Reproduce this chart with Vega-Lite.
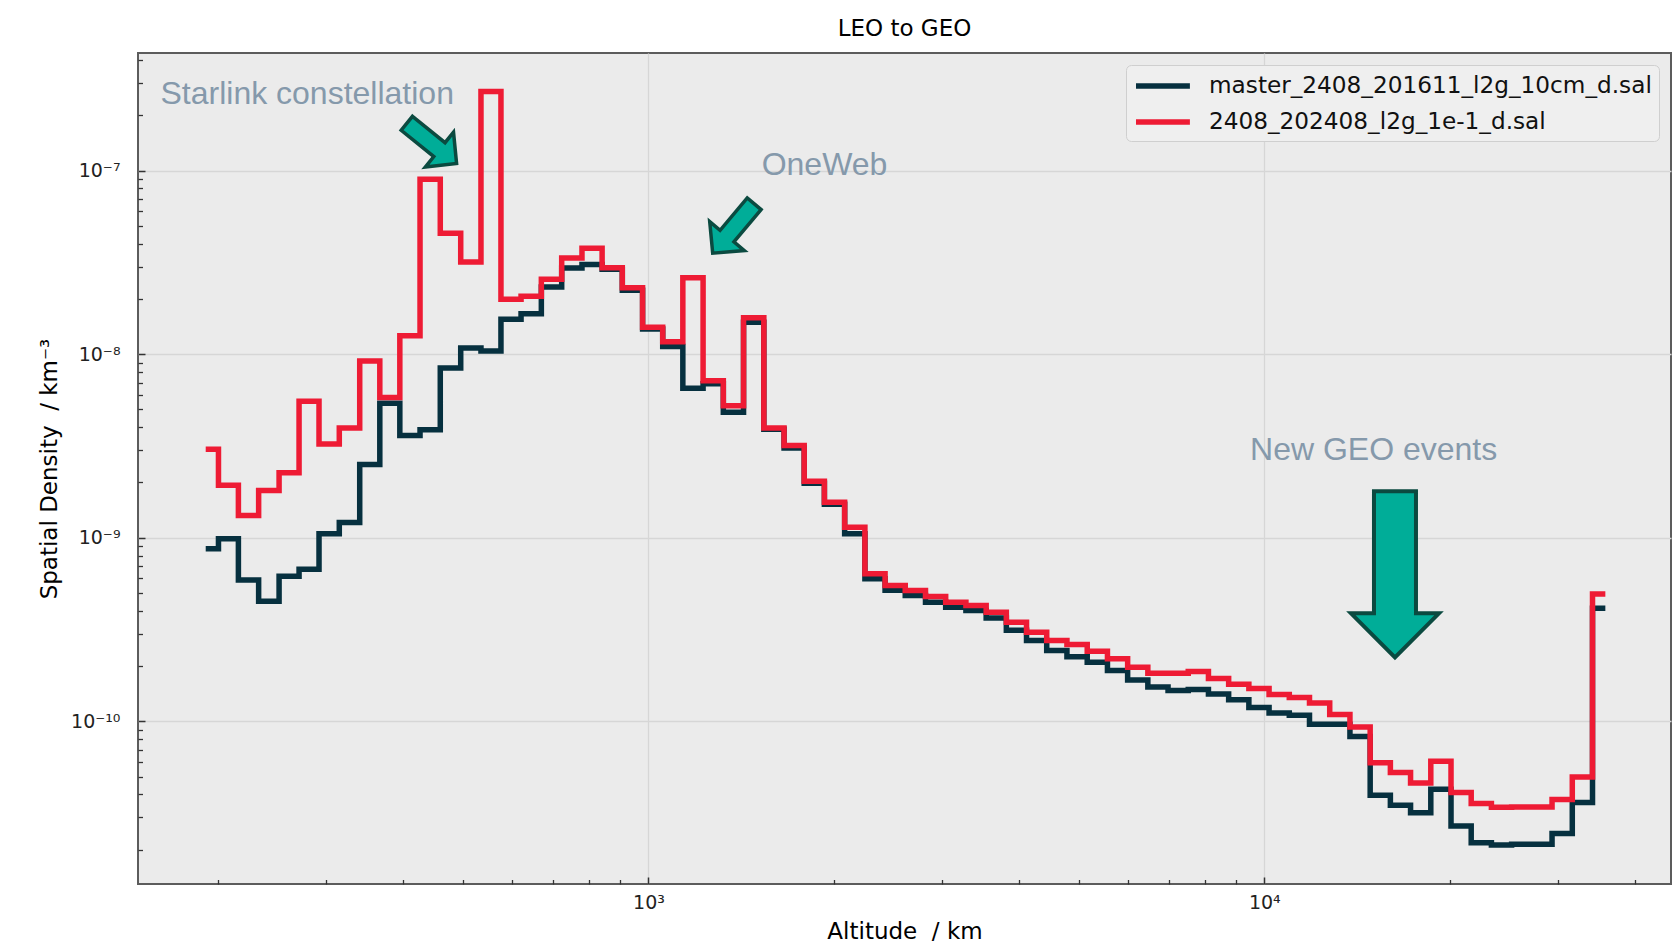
{
  "$schema": "https://vega.github.io/schema/vega-lite/v6.json",
  "width": 1533,
  "height": 831,
  "autosize": {"type": "none"},
  "padding": {"left": 138, "top": 53, "right": 7, "bottom": 68},
  "background": "#ffffff",
  "title": {"text": "LEO to GEO", "font": "DejaVu Sans", "fontSize": 23, "fontWeight": "normal", "color": "#000000", "anchor": "middle", "frame": "group", "offset": 12},
  "datasets": {
    "dens": [
      {"alt": 193, "density": 8.71e-10, "run": "master_2408_201611_l2g_10cm_d.sal"},
      {"alt": 208, "density": 9.86e-10, "run": "master_2408_201611_l2g_10cm_d.sal"},
      {"alt": 224, "density": 5.89e-10, "run": "master_2408_201611_l2g_10cm_d.sal"},
      {"alt": 242, "density": 4.51e-10, "run": "master_2408_201611_l2g_10cm_d.sal"},
      {"alt": 261, "density": 6.17e-10, "run": "master_2408_201611_l2g_10cm_d.sal"},
      {"alt": 281, "density": 6.74e-10, "run": "master_2408_201611_l2g_10cm_d.sal"},
      {"alt": 303, "density": 1.05e-9, "run": "master_2408_201611_l2g_10cm_d.sal"},
      {"alt": 327, "density": 1.21e-9, "run": "master_2408_201611_l2g_10cm_d.sal"},
      {"alt": 353, "density": 2.51e-9, "run": "master_2408_201611_l2g_10cm_d.sal"},
      {"alt": 380, "density": 5.41e-9, "run": "master_2408_201611_l2g_10cm_d.sal"},
      {"alt": 410, "density": 3.61e-9, "run": "master_2408_201611_l2g_10cm_d.sal"},
      {"alt": 442, "density": 3.87e-9, "run": "master_2408_201611_l2g_10cm_d.sal"},
      {"alt": 477, "density": 8.40e-9, "run": "master_2408_201611_l2g_10cm_d.sal"},
      {"alt": 515, "density": 1.08e-8, "run": "master_2408_201611_l2g_10cm_d.sal"},
      {"alt": 555, "density": 1.04e-8, "run": "master_2408_201611_l2g_10cm_d.sal"},
      {"alt": 598, "density": 1.55e-8, "run": "master_2408_201611_l2g_10cm_d.sal"},
      {"alt": 645, "density": 1.66e-8, "run": "master_2408_201611_l2g_10cm_d.sal"},
      {"alt": 696, "density": 2.32e-8, "run": "master_2408_201611_l2g_10cm_d.sal"},
      {"alt": 751, "density": 2.95e-8, "run": "master_2408_201611_l2g_10cm_d.sal"},
      {"alt": 810, "density": 3.08e-8, "run": "master_2408_201611_l2g_10cm_d.sal"},
      {"alt": 873, "density": 2.90e-8, "run": "master_2408_201611_l2g_10cm_d.sal"},
      {"alt": 942, "density": 2.23e-8, "run": "master_2408_201611_l2g_10cm_d.sal"},
      {"alt": 1016, "density": 1.37e-8, "run": "master_2408_201611_l2g_10cm_d.sal"},
      {"alt": 1095, "density": 1.10e-8, "run": "master_2408_201611_l2g_10cm_d.sal"},
      {"alt": 1181, "density": 6.53e-9, "run": "master_2408_201611_l2g_10cm_d.sal"},
      {"alt": 1274, "density": 6.90e-9, "run": "master_2408_201611_l2g_10cm_d.sal"},
      {"alt": 1374, "density": 4.82e-9, "run": "master_2408_201611_l2g_10cm_d.sal"},
      {"alt": 1482, "density": 1.49e-8, "run": "master_2408_201611_l2g_10cm_d.sal"},
      {"alt": 1599, "density": 3.90e-9, "run": "master_2408_201611_l2g_10cm_d.sal"},
      {"alt": 1724, "density": 3.08e-9, "run": "master_2408_201611_l2g_10cm_d.sal"},
      {"alt": 1859, "density": 1.98e-9, "run": "master_2408_201611_l2g_10cm_d.sal"},
      {"alt": 2005, "density": 1.52e-9, "run": "master_2408_201611_l2g_10cm_d.sal"},
      {"alt": 2163, "density": 1.05e-9, "run": "master_2408_201611_l2g_10cm_d.sal"},
      {"alt": 2333, "density": 5.98e-10, "run": "master_2408_201611_l2g_10cm_d.sal"},
      {"alt": 2515, "density": 5.18e-10, "run": "master_2408_201611_l2g_10cm_d.sal"},
      {"alt": 2713, "density": 4.85e-10, "run": "master_2408_201611_l2g_10cm_d.sal"},
      {"alt": 2926, "density": 4.45e-10, "run": "master_2408_201611_l2g_10cm_d.sal"},
      {"alt": 3155, "density": 4.18e-10, "run": "master_2408_201611_l2g_10cm_d.sal"},
      {"alt": 3404, "density": 4.01e-10, "run": "master_2408_201611_l2g_10cm_d.sal"},
      {"alt": 3671, "density": 3.66e-10, "run": "master_2408_201611_l2g_10cm_d.sal"},
      {"alt": 3958, "density": 3.13e-10, "run": "master_2408_201611_l2g_10cm_d.sal"},
      {"alt": 4269, "density": 2.76e-10, "run": "master_2408_201611_l2g_10cm_d.sal"},
      {"alt": 4603, "density": 2.43e-10, "run": "master_2408_201611_l2g_10cm_d.sal"},
      {"alt": 4966, "density": 2.25e-10, "run": "master_2408_201611_l2g_10cm_d.sal"},
      {"alt": 5357, "density": 2.10e-10, "run": "master_2408_201611_l2g_10cm_d.sal"},
      {"alt": 5777, "density": 1.89e-10, "run": "master_2408_201611_l2g_10cm_d.sal"},
      {"alt": 6230, "density": 1.68e-10, "run": "master_2408_201611_l2g_10cm_d.sal"},
      {"alt": 6719, "density": 1.54e-10, "run": "master_2408_201611_l2g_10cm_d.sal"},
      {"alt": 7246, "density": 1.47e-10, "run": "master_2408_201611_l2g_10cm_d.sal"},
      {"alt": 7815, "density": 1.49e-10, "run": "master_2408_201611_l2g_10cm_d.sal"},
      {"alt": 8427, "density": 1.41e-10, "run": "master_2408_201611_l2g_10cm_d.sal"},
      {"alt": 9090, "density": 1.31e-10, "run": "master_2408_201611_l2g_10cm_d.sal"},
      {"alt": 9802, "density": 1.19e-10, "run": "master_2408_201611_l2g_10cm_d.sal"},
      {"alt": 10573, "density": 1.11e-10, "run": "master_2408_201611_l2g_10cm_d.sal"},
      {"alt": 11402, "density": 1.08e-10, "run": "master_2408_201611_l2g_10cm_d.sal"},
      {"alt": 12297, "density": 9.63e-11, "run": "master_2408_201611_l2g_10cm_d.sal"},
      {"alt": 13263, "density": 9.63e-11, "run": "master_2408_201611_l2g_10cm_d.sal"},
      {"alt": 14305, "density": 8.28e-11, "run": "master_2408_201611_l2g_10cm_d.sal"},
      {"alt": 15430, "density": 3.96e-11, "run": "master_2408_201611_l2g_10cm_d.sal"},
      {"alt": 16637, "density": 3.49e-11, "run": "master_2408_201611_l2g_10cm_d.sal"},
      {"alt": 17944, "density": 3.18e-11, "run": "master_2408_201611_l2g_10cm_d.sal"},
      {"alt": 19355, "density": 4.26e-11, "run": "master_2408_201611_l2g_10cm_d.sal"},
      {"alt": 20873, "density": 2.69e-11, "run": "master_2408_201611_l2g_10cm_d.sal"},
      {"alt": 22509, "density": 2.18e-11, "run": "master_2408_201611_l2g_10cm_d.sal"},
      {"alt": 24277, "density": 2.12e-11, "run": "master_2408_201611_l2g_10cm_d.sal"},
      {"alt": 26182, "density": 2.14e-11, "run": "master_2408_201611_l2g_10cm_d.sal"},
      {"alt": 28237, "density": 2.14e-11, "run": "master_2408_201611_l2g_10cm_d.sal"},
      {"alt": 30454, "density": 2.45e-11, "run": "master_2408_201611_l2g_10cm_d.sal"},
      {"alt": 32852, "density": 3.61e-11, "run": "master_2408_201611_l2g_10cm_d.sal"},
      {"alt": 35426, "density": 4.13e-10, "run": "master_2408_201611_l2g_10cm_d.sal"},
      {"alt": 193, "density": 3.03e-9, "run": "2408_202408_l2g_1e-1_d.sal"},
      {"alt": 208, "density": 1.93e-9, "run": "2408_202408_l2g_1e-1_d.sal"},
      {"alt": 224, "density": 1.32e-9, "run": "2408_202408_l2g_1e-1_d.sal"},
      {"alt": 242, "density": 1.81e-9, "run": "2408_202408_l2g_1e-1_d.sal"},
      {"alt": 261, "density": 2.26e-9, "run": "2408_202408_l2g_1e-1_d.sal"},
      {"alt": 281, "density": 5.54e-9, "run": "2408_202408_l2g_1e-1_d.sal"},
      {"alt": 303, "density": 3.24e-9, "run": "2408_202408_l2g_1e-1_d.sal"},
      {"alt": 327, "density": 3.96e-9, "run": "2408_202408_l2g_1e-1_d.sal"},
      {"alt": 353, "density": 9.18e-9, "run": "2408_202408_l2g_1e-1_d.sal"},
      {"alt": 380, "density": 5.80e-9, "run": "2408_202408_l2g_1e-1_d.sal"},
      {"alt": 410, "density": 1.26e-8, "run": "2408_202408_l2g_1e-1_d.sal"},
      {"alt": 442, "density": 8.97e-8, "run": "2408_202408_l2g_1e-1_d.sal"},
      {"alt": 477, "density": 4.55e-8, "run": "2408_202408_l2g_1e-1_d.sal"},
      {"alt": 515, "density": 3.18e-8, "run": "2408_202408_l2g_1e-1_d.sal"},
      {"alt": 555, "density": 2.70e-7, "run": "2408_202408_l2g_1e-1_d.sal"},
      {"alt": 598, "density": 1.99e-8, "run": "2408_202408_l2g_1e-1_d.sal"},
      {"alt": 645, "density": 2.07e-8, "run": "2408_202408_l2g_1e-1_d.sal"},
      {"alt": 696, "density": 2.56e-8, "run": "2408_202408_l2g_1e-1_d.sal"},
      {"alt": 751, "density": 3.34e-8, "run": "2408_202408_l2g_1e-1_d.sal"},
      {"alt": 810, "density": 3.77e-8, "run": "2408_202408_l2g_1e-1_d.sal"},
      {"alt": 873, "density": 2.96e-8, "run": "2408_202408_l2g_1e-1_d.sal"},
      {"alt": 942, "density": 2.30e-8, "run": "2408_202408_l2g_1e-1_d.sal"},
      {"alt": 1016, "density": 1.40e-8, "run": "2408_202408_l2g_1e-1_d.sal"},
      {"alt": 1095, "density": 1.17e-8, "run": "2408_202408_l2g_1e-1_d.sal"},
      {"alt": 1181, "density": 2.61e-8, "run": "2408_202408_l2g_1e-1_d.sal"},
      {"alt": 1274, "density": 7.16e-9, "run": "2408_202408_l2g_1e-1_d.sal"},
      {"alt": 1374, "density": 5.24e-9, "run": "2408_202408_l2g_1e-1_d.sal"},
      {"alt": 1482, "density": 1.58e-8, "run": "2408_202408_l2g_1e-1_d.sal"},
      {"alt": 1599, "density": 3.96e-9, "run": "2408_202408_l2g_1e-1_d.sal"},
      {"alt": 1724, "density": 3.18e-9, "run": "2408_202408_l2g_1e-1_d.sal"},
      {"alt": 1859, "density": 2.03e-9, "run": "2408_202408_l2g_1e-1_d.sal"},
      {"alt": 2005, "density": 1.56e-9, "run": "2408_202408_l2g_1e-1_d.sal"},
      {"alt": 2163, "density": 1.14e-9, "run": "2408_202408_l2g_1e-1_d.sal"},
      {"alt": 2333, "density": 6.37e-10, "run": "2408_202408_l2g_1e-1_d.sal"},
      {"alt": 2515, "density": 5.50e-10, "run": "2408_202408_l2g_1e-1_d.sal"},
      {"alt": 2713, "density": 5.16e-10, "run": "2408_202408_l2g_1e-1_d.sal"},
      {"alt": 2926, "density": 4.79e-10, "run": "2408_202408_l2g_1e-1_d.sal"},
      {"alt": 3155, "density": 4.45e-10, "run": "2408_202408_l2g_1e-1_d.sal"},
      {"alt": 3404, "density": 4.27e-10, "run": "2408_202408_l2g_1e-1_d.sal"},
      {"alt": 3671, "density": 3.93e-10, "run": "2408_202408_l2g_1e-1_d.sal"},
      {"alt": 3958, "density": 3.47e-10, "run": "2408_202408_l2g_1e-1_d.sal"},
      {"alt": 4269, "density": 3.06e-10, "run": "2408_202408_l2g_1e-1_d.sal"},
      {"alt": 4603, "density": 2.76e-10, "run": "2408_202408_l2g_1e-1_d.sal"},
      {"alt": 4966, "density": 2.62e-10, "run": "2408_202408_l2g_1e-1_d.sal"},
      {"alt": 5357, "density": 2.41e-10, "run": "2408_202408_l2g_1e-1_d.sal"},
      {"alt": 5777, "density": 2.19e-10, "run": "2408_202408_l2g_1e-1_d.sal"},
      {"alt": 6230, "density": 1.97e-10, "run": "2408_202408_l2g_1e-1_d.sal"},
      {"alt": 6719, "density": 1.83e-10, "run": "2408_202408_l2g_1e-1_d.sal"},
      {"alt": 7246, "density": 1.83e-10, "run": "2408_202408_l2g_1e-1_d.sal"},
      {"alt": 7815, "density": 1.87e-10, "run": "2408_202408_l2g_1e-1_d.sal"},
      {"alt": 8427, "density": 1.71e-10, "run": "2408_202408_l2g_1e-1_d.sal"},
      {"alt": 9090, "density": 1.59e-10, "run": "2408_202408_l2g_1e-1_d.sal"},
      {"alt": 9802, "density": 1.51e-10, "run": "2408_202408_l2g_1e-1_d.sal"},
      {"alt": 10573, "density": 1.40e-10, "run": "2408_202408_l2g_1e-1_d.sal"},
      {"alt": 11402, "density": 1.35e-10, "run": "2408_202408_l2g_1e-1_d.sal"},
      {"alt": 12297, "density": 1.26e-10, "run": "2408_202408_l2g_1e-1_d.sal"},
      {"alt": 13263, "density": 1.09e-10, "run": "2408_202408_l2g_1e-1_d.sal"},
      {"alt": 14305, "density": 9.31e-11, "run": "2408_202408_l2g_1e-1_d.sal"},
      {"alt": 15430, "density": 5.94e-11, "run": "2408_202408_l2g_1e-1_d.sal"},
      {"alt": 16637, "density": 5.26e-11, "run": "2408_202408_l2g_1e-1_d.sal"},
      {"alt": 17944, "density": 4.62e-11, "run": "2408_202408_l2g_1e-1_d.sal"},
      {"alt": 19355, "density": 6.07e-11, "run": "2408_202408_l2g_1e-1_d.sal"},
      {"alt": 20873, "density": 4.09e-11, "run": "2408_202408_l2g_1e-1_d.sal"},
      {"alt": 22509, "density": 3.57e-11, "run": "2408_202408_l2g_1e-1_d.sal"},
      {"alt": 24277, "density": 3.40e-11, "run": "2408_202408_l2g_1e-1_d.sal"},
      {"alt": 26182, "density": 3.42e-11, "run": "2408_202408_l2g_1e-1_d.sal"},
      {"alt": 28237, "density": 3.42e-11, "run": "2408_202408_l2g_1e-1_d.sal"},
      {"alt": 30454, "density": 3.75e-11, "run": "2408_202408_l2g_1e-1_d.sal"},
      {"alt": 32852, "density": 4.98e-11, "run": "2408_202408_l2g_1e-1_d.sal"},
      {"alt": 35426, "density": 4.94e-10, "run": "2408_202408_l2g_1e-1_d.sal"}
    ],
    "notes": [
      {"alt": 161.3, "density": 2.294e-7, "note": "Starlink constellation"},
      {"alt": 1527, "density": 9.42e-8, "note": "OneWeb"},
      {"alt": 9480, "density": 2.64e-9, "note": "New GEO events"}
    ]
  },
  "layer": [
    {
      "data": {"name": "dens"},
      "transform": [{"filter": "datum.run == 'master_2408_201611_l2g_10cm_d.sal'"}],
      "mark": {"type": "line", "interpolate": "step", "strokeWidth": 5.5, "strokeCap": "square", "strokeJoin": "miter"},
      "encoding": {
        "x": {"field": "alt", "type": "quantitative", "scale": {"type": "log", "domain": [148.3, 45750], "nice": false},
          "axis": {"orient": "bottom", "values": [1000, 10000], "labelExpr": "datum.value < 5000 ? '10³' : '10⁴'", "title": "Altitude\u00a0 / km", "grid": true, "gridColor": "#d6d6d6", "gridWidth": 1.3, "domain": false, "ticks": true, "tickSize": -7, "tickColor": "#333333", "tickWidth": 1.5, "labelFont": "DejaVu Sans", "labelFontSize": 19, "labelColor": "#222222", "labelPadding": 16, "titleFont": "DejaVu Sans", "titleFontSize": 23, "titleFontWeight": "normal", "titleColor": "#000000", "titlePadding": 8}},
        "y": {"field": "density", "type": "quantitative", "scale": {"type": "log", "domain": [1.3e-11, 4.37e-7], "nice": false},
          "axis": {"orient": "left", "values": [1e-10, 1e-9, 1e-8, 1e-7], "labelExpr": "datum.value < 3e-10 ? '10⁻¹⁰' : datum.value < 3e-9 ? '10⁻⁹' : datum.value < 3e-8 ? '10⁻⁸' : '10⁻⁷'", "title": "Spatial Density\u00a0 / km⁻³", "grid": true, "gridColor": "#d6d6d6", "gridWidth": 1.3, "domain": false, "ticks": true, "tickSize": -7, "tickColor": "#333333", "tickWidth": 1.5, "labelFont": "DejaVu Sans", "labelFontSize": 19, "labelColor": "#222222", "labelPadding": 25, "titleFont": "DejaVu Sans", "titleFontSize": 23, "titleFontWeight": "normal", "titleColor": "#000000", "titlePadding": 9}},
        "color": {"field": "run", "type": "nominal", "scale": {"domain": ["master_2408_201611_l2g_10cm_d.sal", "2408_202408_l2g_1e-1_d.sal"], "range": ["#06303f", "#ee1b34"]},
          "legend": {"title": null, "orient": "top-right", "offset": 12, "labelFont": "DejaVu Sans", "labelFontSize": 23.2, "labelColor": "#111111", "labelLimit": 0, "symbolType": "M-1,0L3.9,0", "symbolSize": 484, "symbolStrokeWidth": 5.5, "labelOffset": 48, "rowPadding": 10, "padding": 7, "fillColor": "#efefef", "strokeColor": "#cfcfcf", "cornerRadius": 5}}
      }
    },
    {
      "data": {"name": "dens"},
      "transform": [{"filter": "datum.run == '2408_202408_l2g_1e-1_d.sal'"}],
      "mark": {"type": "line", "interpolate": "step", "strokeWidth": 5.5, "strokeCap": "square", "strokeJoin": "miter"},
      "encoding": {
        "x": {"field": "alt", "type": "quantitative", "scale": {"type": "log", "domain": [148.3, 45750], "nice": false}, "axis": null},
        "y": {"field": "density", "type": "quantitative", "scale": {"type": "log", "domain": [1.3e-11, 4.37e-7], "nice": false}, "axis": null},
        "color": {"field": "run", "type": "nominal", "scale": {"domain": ["master_2408_201611_l2g_10cm_d.sal", "2408_202408_l2g_1e-1_d.sal"], "range": ["#06303f", "#ee1b34"]},
          "legend": {"title": null, "orient": "top-right", "offset": 12, "labelFont": "DejaVu Sans", "labelFontSize": 23.2, "labelColor": "#111111", "labelLimit": 0, "symbolType": "M-1,0L3.9,0", "symbolSize": 484, "symbolStrokeWidth": 5.5, "labelOffset": 48, "rowPadding": 10, "padding": 7, "fillColor": "#efefef", "strokeColor": "#cfcfcf", "cornerRadius": 5}}
      }
    },
    {
      "data": {"name": "notes"},
      "mark": {"type": "text", "font": "Liberation Sans", "fontSize": 32, "color": "#8599ab", "align": "left", "baseline": "alphabetic"},
      "encoding": {
        "x": {"field": "alt", "type": "quantitative", "scale": {"type": "log", "domain": [148.3, 45750], "nice": false},
          "axis": {"orient": "bottom", "values": [200, 300, 400, 500, 600, 700, 800, 900, 2000, 3000, 4000, 5000, 6000, 7000, 8000, 9000, 20000, 30000, 40000], "labels": false, "title": null, "grid": false, "domain": false, "ticks": true, "tickSize": -4.5, "tickColor": "#333333", "tickWidth": 1.3}},
        "y": {"field": "density", "type": "quantitative", "scale": {"type": "log", "domain": [1.3e-11, 4.37e-7], "nice": false},
          "axis": {"orient": "left", "values": [2e-11, 3e-11, 4e-11, 5e-11, 6e-11, 7e-11, 8e-11, 9e-11, 2e-10, 3e-10, 4e-10, 5e-10, 6e-10, 7e-10, 8e-10, 9e-10, 2e-9, 3e-9, 4e-9, 5e-9, 6e-9, 7e-9, 8e-9, 9e-9, 2e-8, 3e-8, 4e-8, 5e-8, 6e-8, 7e-8, 8e-8, 9e-8, 2e-7, 3e-7, 4e-7], "labels": false, "title": null, "grid": false, "domain": false, "ticks": true, "tickSize": -4.5, "tickColor": "#333333", "tickWidth": 1.3}},
        "text": {"field": "note", "type": "nominal"}
      }
    },
    {
      "data": {"values": [{"alt": 444.7, "density": 1.406e-7}]},
      "mark": {"type": "point", "shape": "M-1,-0.28L0.31,-0.28L0.31,-0.7L1,0L0.31,0.7L0.31,0.28L-1,0.28Z", "size": 4096, "angle": 39, "filled": true, "fill": "#00ad98", "stroke": "#0b4a40", "strokeWidth": 3.5, "opacity": 1},
      "encoding": {
        "x": {"field": "alt", "type": "quantitative", "scale": {"type": "log", "domain": [148.3, 45750], "nice": false}, "axis": null},
        "y": {"field": "density", "type": "quantitative", "scale": {"type": "log", "domain": [1.3e-11, 4.37e-7], "nice": false}, "axis": null}
      }
    },
    {
      "data": {"values": [{"alt": 1374, "density": 4.84e-8}]},
      "mark": {"type": "point", "shape": "M-1,-0.28L0.31,-0.28L0.31,-0.7L1,0L0.31,0.7L0.31,0.28L-1,0.28Z", "size": 4160, "angle": 130, "filled": true, "fill": "#00ad98", "stroke": "#0b4a40", "strokeWidth": 3.5, "opacity": 1},
      "encoding": {
        "x": {"field": "alt", "type": "quantitative", "scale": {"type": "log", "domain": [148.3, 45750], "nice": false}, "axis": null},
        "y": {"field": "density", "type": "quantitative", "scale": {"type": "log", "domain": [1.3e-11, 4.37e-7], "nice": false}, "axis": null}
      }
    },
    {
      "data": {"values": [{"alt": 16300, "density": 6.32e-10}]},
      "mark": {"type": "point", "shape": "M-0.253,-1L0.253,-1L0.253,0.47L0.53,0.47L0,1L-0.53,0.47L-0.253,0.47Z", "size": 27556, "filled": true, "fill": "#00ad98", "stroke": "#0b4a40", "strokeWidth": 4, "opacity": 1},
      "encoding": {
        "x": {"field": "alt", "type": "quantitative", "scale": {"type": "log", "domain": [148.3, 45750], "nice": false}, "axis": null},
        "y": {"field": "density", "type": "quantitative", "scale": {"type": "log", "domain": [1.3e-11, 4.37e-7], "nice": false}, "axis": null}
      }
    }
  ],
  "resolve": {"axis": {"x": "independent", "y": "independent"}},
  "config": {
    "font": "DejaVu Sans",
    "view": {"fill": "#ebebeb", "stroke": "#5c5c5c", "strokeWidth": 2}
  }
}
